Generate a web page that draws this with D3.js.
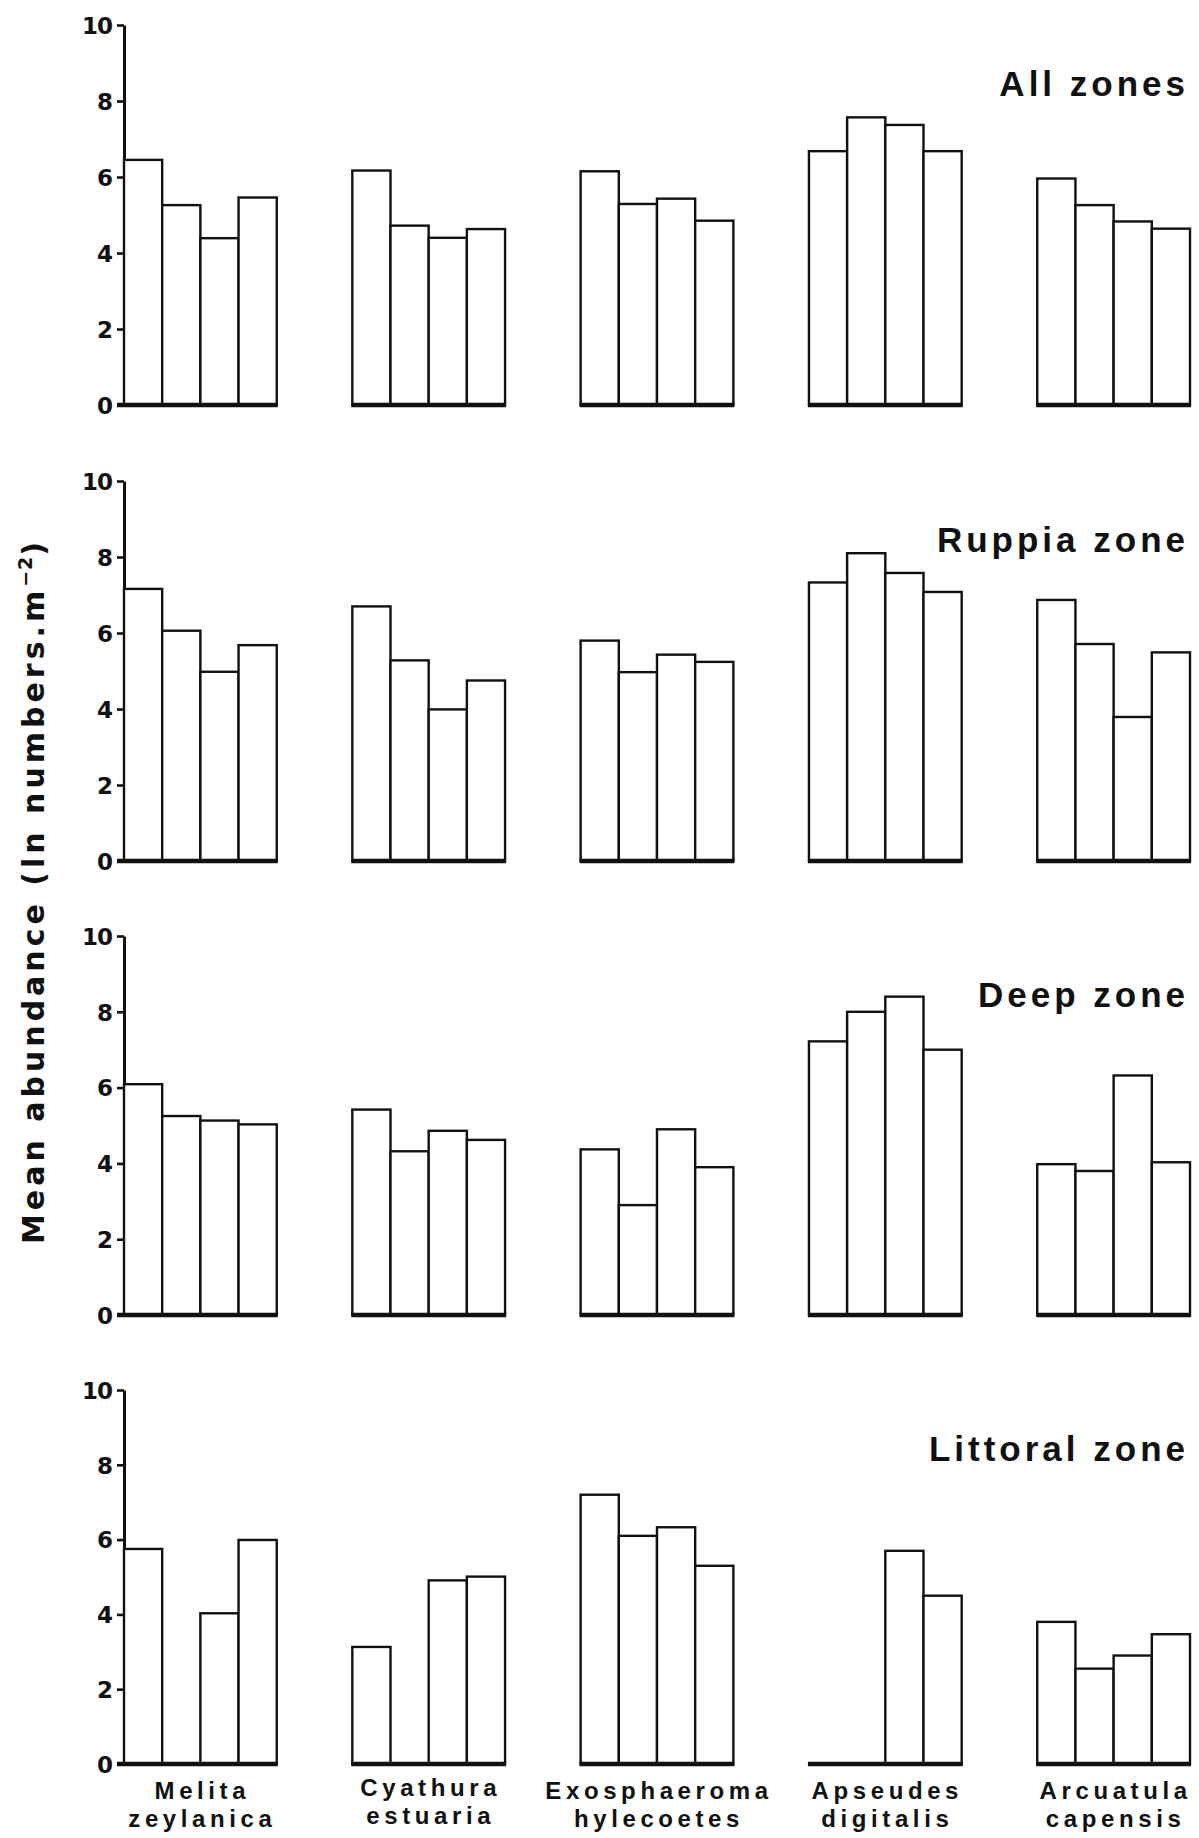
<!DOCTYPE html>
<html>
<head>
<meta charset="utf-8">
<script src="https://cdn.jsdelivr.net/npm/d3@7"></script>
<style>
  html, body { margin: 0; padding: 0; background: #fff; }
  svg { display: block; }
</style>
</head>
<body>
<svg id="chart" width="1199" height="1838"></svg>
<script>
// Species (two-line labels under each group)
const speciesGenus   = ["Melita", "Cyathura", "Exosphaeroma", "Apseudes", "Arcuatula"];
const speciesEpithet = ["zeylanica", "estuaria", "hylecoetes", "digitalis", "capensis"];

// Four sampling periods per species (bars left to right)
const periods = ["P1", "P2", "P3", "P4"];

// Zone titles
const zoneNames = ["All zones", "Ruppia zone", "Deep zone", "Littoral zone"];

// Mean abundance, ln(numbers per m²), one row of four periods per species
const allZones = [
  [6.45, 5.26, 4.39, 5.46],
  [6.17, 4.72, 4.40, 4.63],
  [6.15, 5.29, 5.43, 4.85],
  [6.68, 7.57, 7.37, 6.68],
  [5.96, 5.26, 4.83, 4.64]
];
const ruppiaZone = [
  [7.16, 6.06, 4.98, 5.68],
  [6.70, 5.28, 3.99, 4.75],
  [5.80, 4.97, 5.43, 5.24],
  [7.33, 8.10, 7.58, 7.08],
  [6.87, 5.71, 3.79, 5.49]
];
const deepZone = [
  [6.09, 5.25, 5.13, 5.03],
  [5.42, 4.32, 4.86, 4.62],
  [4.37, 2.90, 4.90, 3.90],
  [7.22, 8.00, 8.40, 7.00],
  [3.98, 3.80, 6.32, 4.03]
];
const littoralZone = [
  [5.75, 0, 4.03, 5.99],
  [3.13, 0, 4.91, 5.01],
  [7.20, 6.10, 6.33, 5.30],
  [0, 0, 5.70, 4.50],
  [3.80, 2.55, 2.90, 3.47]
];

const yTicks = [0, 2, 4, 6, 8, 10];

const zoneData = [allZones, ruppiaZone, deepZone, littoralZone];

// Vertical extent of each panel (value 0 and value 10)
const panelBottom = [405, 861, 1315, 1764];
const panelTop    = [25, 481, 936, 1390];

const svg = d3.select("#chart");
svg.append("rect").attr("width", 1199).attr("height", 1838).attr("fill", "#fff");

const x = d3.scaleBand()
  .domain(speciesGenus)
  .range([124, 1190])
  .paddingInner(0.331)
  .paddingOuter(0);

const xInner = d3.scaleBand()
  .domain(periods)
  .range([0, x.bandwidth()])
  .padding(0);

zoneData.forEach((zone, zi) => {
  const y = d3.scaleLinear().domain([0, 10]).range([panelBottom[zi], panelTop[zi]]);
  const g = svg.append("g").attr("class", "panel");

  // y axis
  const axis = g.append("g")
    .attr("transform", `translate(${x.range()[0]},0)`)
    .call(d3.axisLeft(y).tickValues(yTicks).tickSize(7).tickSizeOuter(0).tickPadding(5));
  axis.select(".domain").attr("stroke", "#111").attr("stroke-width", 3);
  axis.selectAll(".tick line").attr("stroke", "#111").attr("stroke-width", 2.6);
  axis.selectAll(".tick text")
    .attr("fill", "#111")
    .attr("font-family", "'DejaVu Sans', sans-serif")
    .attr("font-weight", "bold")
    .attr("font-size", 23)
    .attr("letter-spacing", -1)
    .attr("dy", "0.36em");

  // bar groups
  zone.forEach((vals, si) => {
    const gx = x(speciesGenus[si]);
    const grp = g.append("g").attr("transform", `translate(${gx},0)`);
    grp.selectAll("rect")
      .data(vals.map((v, i) => ({ v, p: periods[i] })).filter(d => d.v > 0))
      .join("rect")
      .attr("x", d => xInner(d.p))
      .attr("y", d => y(d.v))
      .attr("width", xInner.bandwidth())
      .attr("height", d => y(0) - y(d.v))
      .attr("fill", "#fff")
      .attr("stroke", "#111")
      .attr("stroke-width", 2.4);
    // heavy base line spanning the whole group
    grp.append("line")
      .attr("x1", si === 0 ? -7 : -1)
      .attr("x2", x.bandwidth() + 1)
      .attr("y1", y(0)).attr("y2", y(0))
      .attr("stroke", "#111")
      .attr("stroke-width", 4.5);
  });

  // zone title
  g.append("text")
    .attr("x", 1189)
    .attr("y", y(10) + 71)
    .attr("text-anchor", "end")
    .attr("font-family", "'Liberation Sans', Arial, sans-serif")
    .attr("font-weight", "bold")
    .attr("font-size", 35)
    .attr("letter-spacing", 4)
    .attr("fill", "#111")
    .text(zoneNames[zi]);
});

// species labels
const labels = svg.append("g")
  .attr("font-family", "'Liberation Sans', Arial, sans-serif")
  .attr("font-weight", "bold")
  .attr("font-size", 24)
  .attr("letter-spacing", 4.6)
  .attr("fill", "#111")
  .attr("text-anchor", "middle");
speciesGenus.forEach((name, si) => {
  const cx = x(name) + x.bandwidth() / 2 + 2;
  const shift = si === 1 ? -3 : 0;
  labels.append("text").attr("x", cx).attr("y", 1799 + shift).text(name);
  labels.append("text").attr("x", cx).attr("y", 1827 + shift).text(speciesEpithet[si]);
});

// y-axis title
const yTitle = svg.append("text")
  .attr("transform", "translate(44,891) rotate(-90)")
  .attr("text-anchor", "middle")
  .attr("font-family", "'DejaVu Sans', sans-serif")
  .attr("font-weight", "bold")
  .attr("font-size", 30)
  .attr("letter-spacing", 4)
  .attr("fill", "#111");
yTitle.append("tspan").text("Mean abundance (ln numbers.m");
yTitle.append("tspan").attr("font-size", 19).attr("dy", -12).attr("letter-spacing", 1).text("−2");
yTitle.append("tspan").attr("dy", 12).text(")");
</script>
</body>
</html>
